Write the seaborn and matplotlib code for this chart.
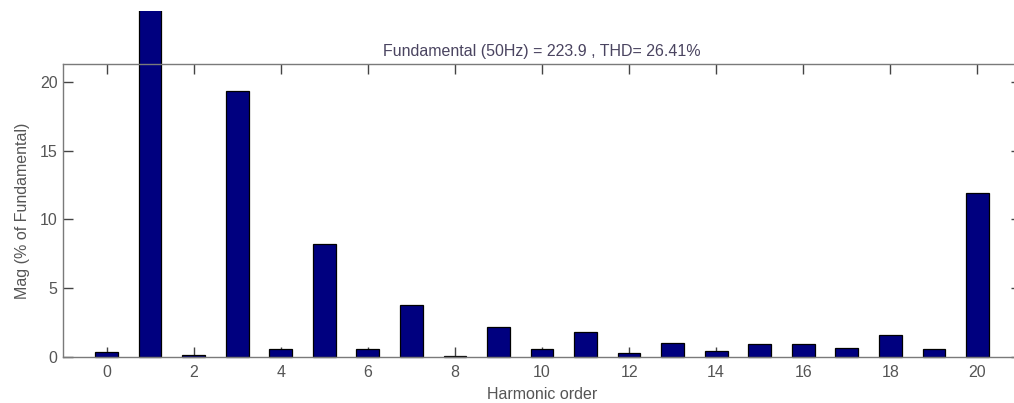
import matplotlib
matplotlib.use("Agg")
import matplotlib.pyplot as plt
from matplotlib.transforms import Bbox, TransformedBbox
import seaborn as sns
import pandas as pd

# Harmonic spectrum (% of fundamental)
orders = list(range(0, 21))
mags = [0.38, 100.0, 0.18, 19.35, 0.56, 8.2, 0.55, 3.78, 0.08, 2.2, 0.55,
        1.8, 0.3, 1.05, 0.42, 0.97, 0.97, 0.68, 1.6, 0.57, 11.9]
title_text = "Fundamental (50Hz) = 223.9 , THD= 26.41%"
x_ticks = list(range(0, 21, 2))
y_ticks = [0, 5, 10, 15, 20]

sns.set_theme(style="white")
plt.rcParams["font.family"] = ["Liberation Sans", "DejaVu Sans"]

df = pd.DataFrame({"order": orders, "mag": mags})

fig = plt.figure(figsize=(10.14, 4.03), dpi=100)
ax = fig.add_axes([63 / 1014, 46 / 403, 958 / 1014, 293 / 403])

sns.barplot(data=df, x="order", y="mag", native_scale=True, width=0.52,
            color="#00007f", saturation=1, edgecolor="black", linewidth=0.9,
            ax=ax)

ax.set_xlim(-1, 21)
ax.set_ylim(0, 21.3)

# let the fundamental run past the top of the axes, up to near the figure edge
clip = TransformedBbox(Bbox([[0, 0], [1, (403 - 11) / 403]]), fig.transFigure)
for p in ax.patches:
    p.set_clip_box(clip)

gray = "#555555"
for s in ax.spines.values():
    s.set_color("#7a7a7a")
    s.set_linewidth(1.0)

ax.set_xticks(x_ticks)
ax.set_yticks(y_ticks)
ax.tick_params(axis="both", direction="in", length=7, width=1.0,
               color="#444444", labelcolor=gray, labelsize=11.5,
               top=True, right=True, bottom=True, left=True)
ax.tick_params(axis="x", pad=6)
ax.tick_params(axis="y", pad=4)

ax.set_xlabel("Harmonic order", fontsize=11.5, color=gray, labelpad=5)
ax.set_ylabel("Mag (% of Fundamental)", fontsize=11.5, color=gray, labelpad=7)
ax.set_title(title_text, fontsize=11.5, color="#4a4460", pad=6)

fig.savefig("out.png", dpi=100)
